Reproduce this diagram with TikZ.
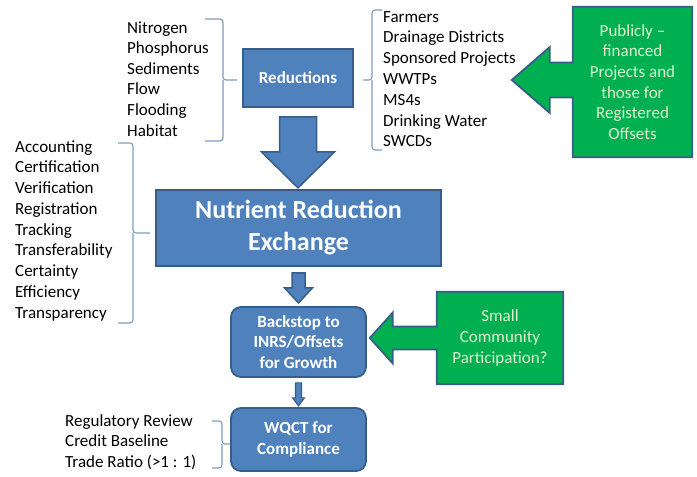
\documentclass[tikz,border=0pt]{standalone}
\usepackage{fontspec}
\setmainfont{Carlito}
\usetikzlibrary{positioning,calc,backgrounds}
\definecolor{boxblue}{RGB}{79,129,189}
\definecolor{edgeblue}{RGB}{56,93,138}
\definecolor{offgreen}{RGB}{0,176,80}
\definecolor{paletext}{RGB}{222,240,206}
\definecolor{bracecol}{RGB}{125,155,190}

\begin{document}
\begin{tikzpicture}[x=1pt,y=-1pt,
  listtext/.style={anchor=base west,inner sep=0,font=\fontsize{17}{20.8}\selectfont},
  bluebox/.style={draw=edgeblue,line width=1.8pt,fill=boxblue,text=white,align=center,font=\fontsize{17}{20.8}\selectfont\bfseries},
  greenbox/.style={text=paletext,align=center,font=\fontsize{17}{20.6}\selectfont},
  greenshape/.style={draw=edgeblue,line width=1.8pt,fill=offgreen},
  bluearrow/.style={draw=edgeblue,line width=1.5pt,fill=boxblue},
  bracket/.style={draw=bracecol,line width=1.1pt,rounded corners=3pt}]
\useasboundingbox (0,0) rectangle (697,477);

% main chain
\node[bluebox,minimum width=110pt,minimum height=58pt] (red) at (298,78) {Reductions};
\node[bluebox,minimum width=285pt,minimum height=76pt,font=\fontsize{26}{32}\selectfont\bfseries] (nre) at (298.5,228) {Nutrient Reduction\\Exchange};
\node[bluebox,rounded corners=10pt,minimum width=135pt,minimum height=70pt] (back) at (298.5,342) {Backstop to\\INRS/Offsets\\for Growth};
\node[bluebox,rounded corners=10pt,minimum width=135pt,minimum height=63pt] (wqct) at (298.5,439.5) {WQCT for\\Compliance};

% green callouts
\node[greenbox,minimum width=119pt,minimum height=150pt] (pub) at (632.5,82) {Publicly --\\financed\\Projects and\\those for\\Registered\\Offsets};
\node[greenbox,minimum width=126pt,minimum height=92pt] (small) at (500,338) {Small\\Community\\Participation?};
\begin{scope}[on background layer]
\draw[greenshape] (pub.north west) -- (pub.north east) -- (pub.south east) -- (pub.south west) -- ($(pub.west)+(0,15.5)$) -- ++(-23,0) -- ++(0,15.5) -- ++(-38,-33) -- ++(38,-33) -- ++(0,15.5) -- ++(23,0) -- cycle;
\draw[greenshape] (small.north west) -- (small.north east) -- (small.south east) -- (small.south west) -- ($(small.west)+(0,11.5)$) -- ++(-44,0) -- ++(0,14) -- ++(-23,-25.5) -- ++(23,-25.5) -- ++(0,14) -- ++(44,0) -- cycle;
\end{scope}

% block arrows down
\draw[bluearrow] ($(red.south)+(-18.5,9)$) -- ++(37,0) -- ++(0,35) -- ++(18,0) -- ++(-36.5,36) -- ++(-36.5,-36) -- ++(18,0) -- cycle;
\draw[bluearrow] ($(nre.south)+(-6.5,6)$) -- ++(13,0) -- ++(0,15) -- ++(7.5,0) -- ++(-14,15) -- ++(-14,-15) -- ++(7.5,0) -- cycle;
\draw[bluearrow,line width=1.1pt] ($(back.south)+(-3,5)$) -- ++(6,0) -- ++(0,15) -- ++(3,0) -- ++(-6,8) -- ++(-6,-8) -- ++(3,0) -- cycle;

% lists
\foreach \w [count=\i] in {Nitrogen,Phosphorus,Sediments,Flow,Flooding,Habitat}
  \node[listtext] (load\i) at (127,{33+20.6*(\i-1)}) {\w};
\foreach \w [count=\i] in {Farmers,Drainage Districts,Sponsored Projects,WWTPs,MS4s,Drinking Water,SWCDs}
  \node[listtext] (src\i) at (383,{22+20.8*(\i-1)}) {\w};
\foreach \w [count=\i] in {Accounting,Certification,Verification,Registration,Tracking,Transferability,Certainty,Efficiency,Transparency}
  \node[listtext] (acc\i) at (15,{152+20.75*(\i-1)}) {\w};
\foreach \w [count=\i] in {Regulatory Review,Credit Baseline,Trade Ratio (>1 : 1)}
  \node[listtext] (reg\i) at (65,{426+20.75*(\i-1)}) {\w};

% braces
\draw[bracket] (205,19) -| (223,80) -- (237,80);
\draw[bracket] (223,80) |- (205,141);
\draw[bracket] (382,10) -| (372,80) -- (363,80);
\draw[bracket] (372,80) |- (382,150);
\draw[bracket] (118,143) -| (133,233) -- (150,233);
\draw[bracket] (133,233) |- (118,323);
\draw[bracket] (212,421) -| (222,444) -- (230,444);
\draw[bracket] (222,444) |- (212,468);
\end{tikzpicture}
\end{document}
